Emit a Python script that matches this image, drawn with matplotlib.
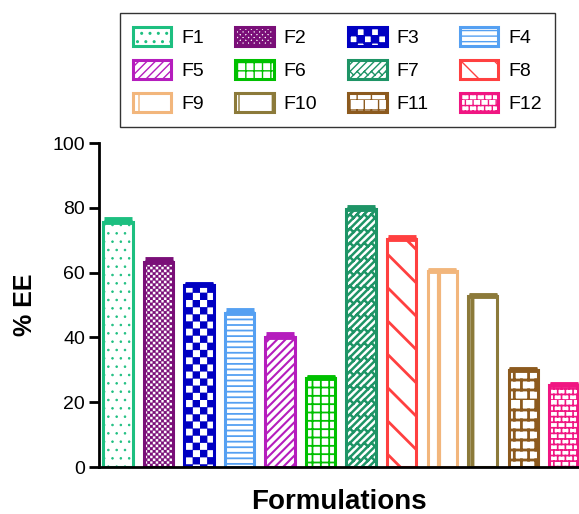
import warnings
import numpy as np
import matplotlib
matplotlib.use('Agg')
import matplotlib.pyplot as plt
from matplotlib import hatch as mhatch
from matplotlib.path import Path

warnings.filterwarnings('ignore')

labels = ['F1', 'F2', 'F3', 'F4', 'F5', 'F6', 'F7', 'F8', 'F9', 'F10', 'F11', 'F12']
ee = [75.8, 63.3, 56.1, 47.5, 40.3, 27.4, 79.8, 70.5, 60.4, 52.7, 29.9, 25.2]
ee_err = [0.9, 0.8, 0.5, 0.9, 0.7, 0.5, 0.5, 0.6, 0.5, 0.4, 0.4, 0.4]
colors = ['#1dbf80', '#7a0f78', '#0000c2', '#55a0f2', '#b51dbd', '#00c000',
          '#1e9466', '#ff4040', '#f2b67c', '#8c7a3a', '#8c5a1e', '#f01682']
hatches = ['..', 'ccccc', 'cc', '---', '////', '++', 'd', '\\', 'v', 'v', 'b', 'bb']
hatch_lw = [0.6, 0.2, 0.2, 1.3, 1.5, 1.3, 1.8, 2.0, 3.0, 3.0, 2.0, 1.2]


# extra hatch styles: c = checker, b = brick, d = diagonal brick, v = wide vertical
class ExtraHatch(mhatch.HatchPatternBase):
    def __init__(self, hatch, density):
        self.items = []
        nc = hatch.count('c')
        if nc:
            n = nc * 7
            n += n % 2
            s = 1.0 / n
            for i in range(n):
                for j in range(n):
                    if (i + j) % 2 == 0:
                        x, y = i * s, j * s
                        self.items.append(([(x, y), (x + s, y), (x + s, y + s), (x, y + s), (x, y)], True))
        nb = hatch.count('b')
        if nb:
            n = nb * 9
            n += n % 2
            k = max(2, int(round(n * 0.7)))
            h, w = 1.0 / n, 1.0 / k
            for r in range(n):
                y = r * h
                self.items.append(([(0, y), (1, y)], False))
                off = 0.5 * w if r % 2 else 0.0
                for m in range(-1, k + 1):
                    x = m * w + off
                    self.items.append(([(x, y), (x, y + h)], False))
        if 'd' in hatch:
            n = 14
            for j in range(-n, 2 * n):
                c = j / n
                self.items.append(([(-1, -1 + c), (2, 2 + c)], False))
                off = 0.5 if j % 2 else 0.0
                for m in range(-n, 2 * n):
                    x = (m + off) / (n / 2)
                    self.items.append(([(x, x + c), (x + 0.5 / n, x + c - 0.5 / n)], False))
        nv = hatch.count('v')
        if nv:
            n = nv * 3
            for k in range(n):
                x = (k + 0.17) / n
                self.items.append(([(x, 0), (x, 1)], False))
        self.num_vertices = sum(len(v) for v, _ in self.items)

    def set_vertices_and_codes(self, vertices, codes):
        i = 0
        for verts, closed in self.items:
            m = len(verts)
            vertices[i:i + m] = verts
            codes[i] = Path.MOVETO
            codes[i + 1:i + m] = Path.LINETO
            if closed:
                codes[i + m - 1] = Path.CLOSEPOLY
            i += m


mhatch._hatch_types.append(ExtraHatch)

plt.rcParams['font.family'] = ['Liberation Sans', 'DejaVu Sans']

fig = plt.figure(figsize=(5.79, 5.14), dpi=100)
ax = fig.add_axes([0.171, 0.0914, 0.829, 0.630])

x = np.arange(len(labels))
bars = []
for i in range(len(labels)):
    b = ax.bar(x[i], ee[i], width=0.72, facecolor='white', edgecolor=colors[i],
               linewidth=2.2, hatch=hatches[i], hatch_linewidth=hatch_lw[i],
               label=labels[i], zorder=2)
    bars.append(b)
    ax.errorbar(x[i], ee[i], yerr=[[0], [ee_err[i]]], fmt='none', ecolor=colors[i],
                elinewidth=2, capsize=10, capthick=3.5, zorder=3)

ax.set_xlim(-0.47, 11.38)
ax.set_ylim(0, 100)
ax.set_yticks([0, 20, 40, 60, 80, 100])
ax.set_xticks([])
for side in ['top', 'right']:
    ax.spines[side].set_visible(False)
for side in ['left', 'bottom']:
    ax.spines[side].set_linewidth(2)
ax.tick_params(axis='y', direction='out', length=7, width=2, labelsize=14, pad=3)
ax.set_ylabel('% EE', fontsize=18, fontweight='bold', labelpad=11)
ax.set_xlabel('Formulations', fontsize=20, fontweight='bold', labelpad=16)

# legend filled row by row, like the original
order = [0, 4, 8, 1, 5, 9, 2, 6, 10, 3, 7, 11]
leg = fig.legend([bars[i] for i in order], [labels[i] for i in order],
                 loc='center', bbox_to_anchor=(0.583, 0.864), ncol=4, fontsize=14,
                 frameon=True, fancybox=False, edgecolor='black', handlelength=1.96,
                 handleheight=1.13, handletextpad=0.52, columnspacing=1.6,
                 labelspacing=0.67, borderpad=0.7)
leg.get_frame().set_linewidth(1.0)

fig.savefig('out.png', dpi=100)
